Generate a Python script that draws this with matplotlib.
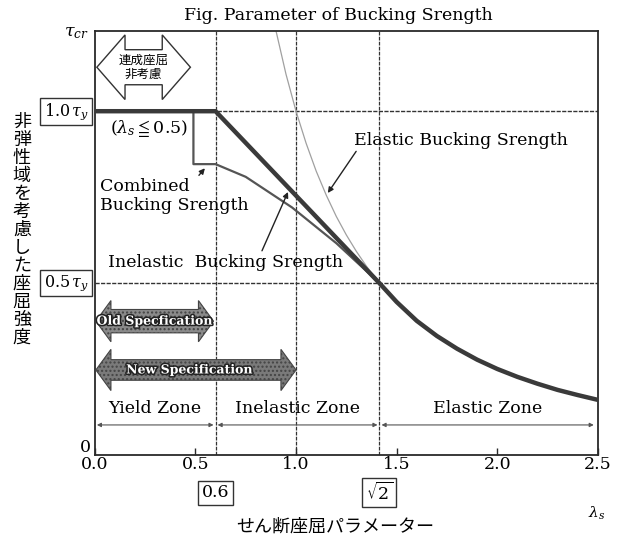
import matplotlib.pyplot as plt
import matplotlib.patheffects as pe
from matplotlib.patches import Polygon
import numpy as np

plt.rcParams['font.family'] = ['DejaVu Serif', 'DejaVu Sans', 'Noto Sans CJK JP']
plt.rcParams['mathtext.fontset'] = 'dejavuserif'

# values, strength in units of tau_y
combined_x = [0.0, 0.6, 1.414, 1.5, 1.6, 1.7, 1.8, 1.9, 2.0, 2.1, 2.2, 2.3, 2.4, 2.5]
combined_y = [1.0, 1.0, 0.5, 0.445, 0.39, 0.346, 0.309, 0.277, 0.25, 0.227, 0.207, 0.189, 0.174, 0.16]

elastic_x = [0.9, 0.95, 1.0, 1.05, 1.1, 1.15, 1.2, 1.25, 1.3, 1.35, 1.414]
elastic_y = [1.235, 1.108, 1.0, 0.907, 0.826, 0.756, 0.694, 0.64, 0.592, 0.549, 0.5]

inelastic_x = [0.0, 0.49, 0.49, 0.6, 0.75, 0.98, 1.2, 1.414]
inelastic_y = [1.0, 1.0, 0.846, 0.846, 0.809, 0.72, 0.616, 0.5]

xticks = [0.0, 0.5, 1.0, 1.5, 2.0, 2.5]
xtick_labels = ['0.0', '0.5', '1.0', '1.5', '2.0', '2.5']
limits = [0.6, 1.0, np.sqrt(2)]     # zone borders
levels = [0.5, 1.0]                 # 0.5 tau_y, 1.0 tau_y

zones = ['Yield Zone', 'Inelastic Zone', 'Elastic Zone']
zone_from = [0.01, 0.61, 1.425]
zone_to = [0.59, 1.405, 2.48]

FS = 12.5


def fat_arrow(ax, x0, x1, yc, shaft, head, head_len, **kw):
    "Double headed block arrow in data units."
    pts = [(x0, yc), (x0 + head_len, yc + head), (x0 + head_len, yc + shaft),
           (x1 - head_len, yc + shaft), (x1 - head_len, yc + head), (x1, yc),
           (x1 - head_len, yc - head), (x1 - head_len, yc - shaft),
           (x0 + head_len, yc - shaft), (x0 + head_len, yc - head)]
    ax.add_patch(Polygon(pts, closed=True, **kw))


fig = plt.figure(figsize=(6.24, 5.37), dpi=100)
ax = fig.add_axes([0.152, 0.153, 0.806, 0.789])
ax.set_xlim(0, 2.5)
ax.set_ylim(0, 1.233)

dark = '#2a2a2a'
for s in ax.spines.values():
    s.set_color(dark)
    s.set_linewidth(1.3)

# guide lines
for x in limits:
    ax.axvline(x, color='#333333', lw=0.9, ls=(0, (3, 1)), zorder=1)
for y in levels:
    ax.axhline(y, color='#333333', lw=1.0, ls=(0, (3, 1)), zorder=1)

# curves
ax.plot(elastic_x, elastic_y, color='#a0a0a0', lw=0.9, zorder=2)
ax.plot(inelastic_x, inelastic_y, color='#555555', lw=1.6, zorder=3)
ax.plot(combined_x, combined_y, color='#3a3a3a', lw=3.2, zorder=4)

# ticks
ax.set_xticks(xticks)
ax.set_xticklabels(xtick_labels, fontsize=FS)
ax.tick_params(axis='x', direction='in', length=5, width=1, pad=1, color=dark)
ax.set_yticks([])

yax = ax.get_yaxis_transform()
box = dict(boxstyle='square,pad=0.2', fc='white', ec='#333333', lw=1)
ax.text(-0.012, 1.0, r'1.0$\,\tau_y$', transform=yax, ha='right', va='center',
        fontsize=11.5, bbox=box)
ax.text(-0.012, 0.5, r'0.5$\,\tau_y$', transform=yax, ha='right', va='center',
        fontsize=11.5, bbox=box)
ax.text(-0.008, 0.02, '0', transform=yax, ha='right', va='center', fontsize=FS)
ax.text(-0.036, 1.228, r'$\tau_{cr}$', transform=yax, ha='center', va='center', fontsize=FS)

ax.text(0.6, -0.11, '0.6', ha='center', va='center', fontsize=FS, bbox=box, clip_on=False)
ax.text(np.sqrt(2), -0.11, r'$\sqrt{2}$', ha='center', va='center', fontsize=FS,
        bbox=box, clip_on=False)
ax.text(2.495, -0.17, r'$\lambda_s$', ha='center', va='center', fontsize=11, clip_on=False)

# labels on the curves
ax.text(0.075, 0.95, r'($\lambda_s\leqq$0.5)', ha='left', va='center', fontsize=FS)
ax.annotate('Combined\nBucking Srength', xy=(0.547, 0.834), xytext=(0.025, 0.753),
            ha='left', va='center', fontsize=FS, linespacing=1.15,
            arrowprops=dict(arrowstyle='-|>', color='#222222', lw=1, mutation_scale=8,
                            shrinkA=0, shrinkB=0, relpos=(0.6, 0.75)))
ax.annotate('Inelastic  Bucking Srength', xy=(0.96, 0.765), xytext=(0.065, 0.561),
            ha='left', va='center', fontsize=FS,
            arrowprops=dict(arrowstyle='-|>', color='#222222', lw=1, mutation_scale=8,
                            shrinkA=0, shrinkB=0, relpos=(0.65, 1.0)))
ax.annotate('Elastic Bucking Srength', xy=(1.158, 0.762), xytext=(1.287, 0.916),
            ha='left', va='center', fontsize=FS,
            arrowprops=dict(arrowstyle='-|>', color='#222222', lw=1, mutation_scale=8,
                            shrinkA=0, shrinkB=0, relpos=(0.02, 0.0)))

# block arrows
fat_arrow(ax, 0.01, 0.475, 1.128, 0.051, 0.094, 0.14, fc='white', ec='#333333', lw=1, zorder=5)
ax.text(0.243, 1.128, '連成座屈\n非考慮', ha='center', va='center', fontsize=9,
        family=['Noto Sans CJK JP'], linespacing=1.05, zorder=6)

white_txt = [pe.withStroke(linewidth=2.2, foreground='#222222')]
fat_arrow(ax, 0.005, 0.59, 0.389, 0.034, 0.06, 0.075, fc='#8a8a8a', ec='#444444',
          lw=0.8, hatch='....', zorder=5)
ax.text(0.297, 0.389, 'Old Specfication', ha='center', va='center', fontsize=9,
        color='white', fontweight='bold', path_effects=white_txt, zorder=6)
fat_arrow(ax, 0.005, 1.0, 0.247, 0.03, 0.06, 0.075, fc='#7a7a7a', ec='#444444',
          lw=0.8, hatch='....', zorder=5)
ax.text(0.47, 0.247, 'New Specification', ha='center', va='center', fontsize=9,
        color='white', fontweight='bold', path_effects=white_txt, zorder=6)

# zones
for name, a, b in zip(zones, zone_from, zone_to):
    ax.annotate('', xy=(b, 0.087), xytext=(a, 0.087),
                arrowprops=dict(arrowstyle='<|-|>', color='#555555', lw=0.8,
                                mutation_scale=6, shrinkA=0, shrinkB=0))
    ax.text((a + b) / 2, 0.135, name, ha='center', va='center', fontsize=FS)

fig.text(0.543, 0.972, 'Fig. Parameter of Bucking Srength', ha='center', va='center', fontsize=FS)
fig.text(0.537, 0.019, 'せん断座屈パラメーター', ha='center', va='center', fontsize=13,
         family=['Noto Sans CJK JP'])
fig.text(0.035, 1 - 230 / 537, '\n'.join('非弾性域を考慮した座屈強度'), ha='center', va='center',
         fontsize=13, family=['Noto Sans CJK JP'], linespacing=1.0)

fig.savefig('out.png', dpi=100)
